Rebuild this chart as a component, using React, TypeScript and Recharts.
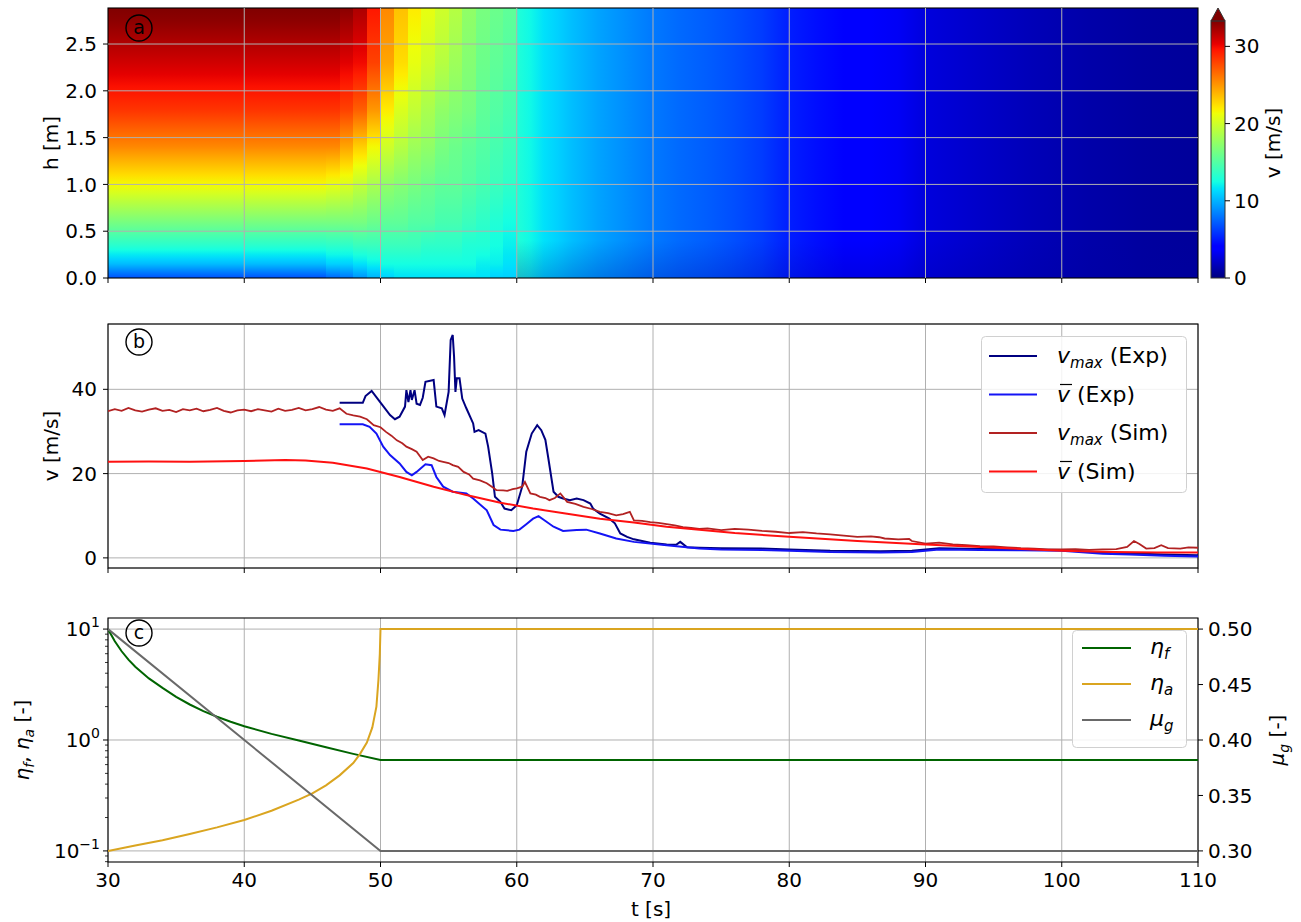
import React from 'react';
import { ComposedChart, Line, XAxis, YAxis, CartesianGrid, ReferenceArea, ReferenceLine, Legend } from 'recharts';

const FONT = '"DejaVu Sans", sans-serif';
const TICK_STYLE = { fontSize: 20, fill: '#000', fontFamily: FONT };

// shared time axis
const T_TICKS = [30, 40, 50, 60, 70, 80, 90, 100, 110];

// (a) velocity field up to t=60: column edges in time, v at the listed heights
const H_TOP = 2.885;
const H_TICKS = [0, 0.5, 1.0, 1.5, 2.0, 2.5];
const VMAX = 33.3;
const CB_TOP = 34.97;
const CB_TICKS = [0, 10, 20, 30];
const T_EDGES = [30, 38, 46, 47, 48, 49, 50, 51, 52, 53, 54, 55, 56, 57, 58, 59, 60];
const H_LEVELS = [0, 0.15, 0.35, 0.6, 1.0, 1.4, 1.8, 2.3, 2.885];
const V_H000 = [6.8, 6.8, 7.5, 8.0, 9.0, 10.0, 11.0, 11.5, 11.5, 11.5, 11.5, 11.5, 11.5, 11.5, 11.0, 11.0];
const V_H015 = [10.3, 10.3, 11, 11, 11.5, 12, 12.5, 12.5, 12.5, 12.5, 12.5, 12.5, 12.5, 12, 12, 11.5];
const V_H035 = [13.3, 13.3, 13.5, 13.5, 14, 14, 14, 14, 14, 13.5, 13.5, 13.5, 13, 13, 12.5, 12];
const V_H060 = [16.5, 16.5, 16.5, 16.5, 16.5, 16, 15.5, 15.5, 15, 15, 14.5, 14.5, 14, 13.5, 13, 12.5];
const V_H100 = [21.5, 21.5, 21, 20.5, 19.5, 18.5, 17.5, 17, 16.5, 16, 15.5, 15.5, 15, 14.5, 14, 13.5];
const V_H140 = [25.5, 25.5, 25.5, 24.5, 23, 21.5, 20, 19, 18, 17.5, 16.5, 16, 15.5, 15, 14.5, 14];
const V_H180 = [28.5, 28.5, 28.5, 28, 27, 25, 22, 20.5, 19.5, 18.5, 17.5, 17, 16.5, 15.5, 15, 14.5];
const V_H230 = [31, 31, 31, 30.5, 30, 28, 24.5, 22.5, 21, 20, 19, 18, 17, 16, 15.5, 15];
const V_H288 = [33.5, 33.5, 33.5, 33, 32, 29.5, 25.5, 23.5, 22, 21, 20, 19, 17.5, 16.5, 16, 15.5];
const FIELD_ROWS = [V_H000, V_H015, V_H035, V_H060, V_H100, V_H140, V_H180, V_H230, V_H288];
// after t=60 the profile is almost uniform in height
const LATE_T = [60, 61, 62, 63, 64, 66, 68, 70, 72, 74, 76, 78, 80, 82, 84, 86, 88, 90, 94, 98, 102, 106, 110];
const LATE_V = [13.0, 12.3, 11.5, 11.0, 10.4, 9.5, 8.8, 8.1, 7.6, 7.2, 6.7, 6.1, 5.1, 4.6, 4.1, 3.8, 3.4, 2.7, 2.1, 1.6, 1.2, 0.9, 0.75];

// (b) velocities, [t, v]
const V_TICKS = [0, 20, 40];
const VMAX_EXP = [[47, 36.8], [48.7, 36.8], [48.9, 38.4], [49.35, 39.6], [49.96, 37.0], [50.7, 33.9], [51.06, 32.9], [51.4, 33.5], [51.8, 35.9], [51.9, 39.8], [52.05, 37.0], [52.2, 39.8], [52.3, 37.5], [52.5, 39.8], [52.65, 36.6], [52.9, 36.3], [53.1, 38.0], [53.3, 41.8], [53.9, 42.2], [54.1, 35.9], [54.5, 35.5], [54.7, 33.9], [55.0, 39.4], [55.15, 51.7], [55.3, 52.9], [55.4, 47.7], [55.5, 39.4], [55.6, 42.6], [55.8, 42.6], [56.0, 37.8], [56.3, 35.5], [56.8, 31.9], [56.9, 29.9], [57.2, 30.3], [57.7, 29.5], [57.9, 26.4], [58.2, 20.0], [58.4, 14.5], [58.8, 13.3], [59.1, 11.7], [59.6, 11.3], [60.0, 12.5], [60.4, 16.9], [60.7, 25.2], [61.1, 29.5], [61.5, 31.5], [61.8, 30.3], [62.1, 28.0], [62.3, 24.0], [62.7, 15.7], [63.05, 14.5], [63.4, 14.1], [63.9, 13.7], [64.4, 14.1], [64.9, 13.7], [65.4, 12.9], [65.6, 11.7], [66.1, 10.5], [66.8, 9.3], [67.2, 8.2], [67.6, 5.8], [68.1, 5.0], [68.6, 4.4], [69.8, 3.6], [71, 3.2], [71.7, 3.1], [72, 3.8], [72.5, 2.5], [73.4, 2.4], [75, 2.3], [78, 2.2], [80, 2.0], [83, 1.7], [86.7, 1.6], [89, 1.7], [91, 2.3], [94, 2.1], [97, 2.0], [100, 1.9], [103, 1.3], [105, 1.1], [107.5, 0.8], [110, 0.6]];
const VMEAN_EXP = [[47, 31.7], [48.7, 31.7], [49.2, 31.1], [49.7, 29.5], [50.2, 26.4], [50.7, 24.4], [51.4, 22.4], [51.9, 20.4], [52.3, 19.6], [52.65, 20.4], [53.3, 22.2], [53.75, 22.0], [54.1, 19.2], [54.6, 16.9], [55.3, 15.7], [56.3, 15.3], [56.8, 14.1], [57.8, 11.3], [58.3, 7.8], [58.8, 6.7], [59.75, 6.4], [60.2, 6.7], [60.7, 8.0], [61.2, 9.3], [61.6, 9.9], [61.95, 9.1], [62.7, 7.4], [63.4, 6.4], [64.4, 6.6], [65.1, 6.7], [66.1, 5.8], [67.3, 4.6], [68.6, 3.8], [71, 3.0], [73.4, 2.2], [75, 2.0], [78, 1.9], [80, 1.7], [83, 1.4], [86.7, 1.3], [89, 1.4], [91, 2.0], [94, 1.9], [97, 1.8], [100, 1.7], [103, 1.0], [105, 0.8], [107.5, 0.5], [110, 0.3]];
const VMAX_SIM = [[30, 34.8], [30.5, 35.3], [31, 34.9], [31.5, 35.6], [32, 35.0], [32.5, 34.7], [33, 35.2], [33.5, 35.5], [34, 34.9], [34.5, 35.1], [35, 34.6], [35.5, 35.3], [36, 35.0], [36.5, 35.4], [37, 34.8], [37.5, 35.1], [38, 35.6], [38.5, 34.9], [39, 34.5], [39.5, 35.0], [40, 35.2], [40.5, 34.8], [41, 35.3], [41.5, 35.0], [42, 34.7], [42.5, 35.4], [43, 34.9], [43.5, 35.1], [44, 35.6], [44.5, 35.0], [45, 35.3], [45.5, 35.8], [46, 35.2], [46.5, 34.9], [47, 35.5], [47.5, 34.2], [48, 33.8], [48.5, 33.5], [49, 32.9], [49.5, 31.5], [50, 31.0], [50.4, 29.9], [50.8, 29.0], [51.2, 27.9], [51.6, 27.2], [51.9, 26.4], [52.3, 25.8], [52.65, 25.2], [53.1, 23.2], [53.5, 24.0], [53.9, 23.6], [54.3, 23.0], [54.6, 22.8], [55, 22.5], [55.3, 22.0], [55.7, 21.6], [56.1, 20.4], [56.5, 19.8], [56.8, 18.8], [57.3, 18.4], [57.8, 17.7], [58.2, 16.8], [58.5, 16.1], [59, 16.0], [59.3, 15.9], [59.7, 16.3], [60, 16.5], [60.4, 16.9], [60.6, 18.0], [61, 15.3], [61.4, 15.0], [61.7, 14.5], [62.1, 14.2], [62.4, 13.7], [62.8, 14.2], [63.2, 15.3], [63.7, 13.3], [64.3, 12.8], [64.9, 12.1], [65.5, 11.6], [66.1, 10.9], [66.7, 10.6], [67.3, 10.1], [67.8, 10.4], [68.3, 10.9], [68.6, 8.9], [69.2, 8.8], [69.8, 8.5], [70.4, 8.3], [71, 8.0], [71.6, 7.7], [72.2, 7.3], [72.8, 7.1], [73.4, 6.9], [74, 7.0], [75, 6.6], [76, 6.9], [77, 6.7], [78, 6.4], [79, 6.2], [80, 5.9], [81, 6.1], [82, 5.8], [83, 5.6], [84, 5.3], [85, 5.0], [86, 5.1], [86.6, 4.9], [87, 4.6], [88, 4.4], [88.8, 4.5], [89, 4.0], [90, 3.4], [91, 3.6], [92, 3.2], [93, 3.0], [94, 2.8], [95, 2.7], [96, 2.5], [97, 2.3], [98, 2.2], [99, 2.0], [100, 2.0], [101, 2.1], [102, 1.9], [103, 2.0], [104, 2.1], [104.8, 2.6], [105.3, 4.0], [105.7, 3.3], [106.2, 2.2], [106.8, 2.3], [107.3, 3.0], [107.8, 2.3], [108.7, 2.2], [109.3, 2.5], [110, 2.4]];
const VMEAN_SIM = [[30, 22.8], [33, 22.9], [36, 22.8], [40, 23.0], [43, 23.2], [44.5, 23.1], [46.5, 22.6], [49, 21.2], [51.4, 19.2], [53.9, 16.9], [56.3, 14.9], [58.8, 13.1], [61.2, 11.7], [63.7, 10.5], [66.1, 9.3], [68.6, 8.4], [71, 7.4], [73.4, 6.7], [76, 5.9], [80, 5.0], [85, 4.0], [90, 3.2], [96.4, 2.2], [100, 1.7], [103.8, 1.4], [107, 1.3], [110, 1.3]];

// (c) model parameters, [t, value]
const LOG_TICKS = [0.08, 0.09, 0.1, 0.2, 0.3, 0.4, 0.5, 0.6, 0.7, 0.8, 0.9, 1, 2, 3, 4, 5, 6, 7, 8, 9, 10];
const MU_TICKS = [0.3, 0.35, 0.4, 0.45, 0.5];
const ETA_F = [[30, 10], [30.5, 7.76], [31, 6.31], [31.5, 5.31], [32, 4.57], [33, 3.59], [34, 2.95], [35, 2.45], [36, 2.09], [37, 1.82], [38, 1.62], [39, 1.46], [40, 1.33], [42, 1.135], [44, 0.989], [46, 0.861], [48, 0.75], [50, 0.661], [110, 0.661]];
const ETA_A = [[30, 0.1], [32, 0.112], [34, 0.125], [36, 0.142], [38, 0.163], [40, 0.19], [42, 0.23], [44, 0.29], [45, 0.33], [46, 0.39], [47, 0.48], [48, 0.62], [48.5, 0.75], [49, 0.95], [49.4, 1.3], [49.7, 2.0], [49.85, 3.5], [49.95, 6], [50, 10], [110, 10]];
const MU_G = [[30, 0.5], [50, 0.3], [110, 0.3]];

const toPts = (arr: number[][]) => arr.map(([t, v]) => ({ t, v }));

// matplotlib "jet"
const interp = (f: number, xs: number[], ys: number[]) => {
  for (let i = 1; i < xs.length; i++) {
    if (f <= xs[i]) {
      const u = (f - xs[i - 1]) / (xs[i] - xs[i - 1]);
      return ys[i - 1] + u * (ys[i] - ys[i - 1]);
    }
  }
  return ys[ys.length - 1];
};
const jetFrac = (f: number) => {
  const c = Math.max(0, Math.min(1, f));
  const r = interp(c, [0, 0.35, 0.66, 0.89, 1], [0, 0, 1, 1, 0.5]);
  const g = interp(c, [0, 0.125, 0.375, 0.64, 0.91, 1], [0, 0, 1, 1, 0, 0]);
  const b = interp(c, [0, 0.11, 0.34, 0.65, 1], [0.5, 1, 1, 0, 0]);
  return `rgb(${Math.round(r * 255)},${Math.round(g * 255)},${Math.round(b * 255)})`;
};
const jet = (v: number) => jetFrac(v / VMAX);
const JET_BREAKS = [0, 0.11, 0.125, 0.34, 0.35, 0.375, 0.64, 0.65, 0.66, 0.89, 0.91, 1];

const columnStops = (i: number) => {
  const stops: { off: number; color: string }[] = [];
  for (let k = 0; k < H_LEVELS.length; k++) {
    const v = FIELD_ROWS[k][i];
    stops.push({ off: H_LEVELS[k] / H_TOP, color: jet(v) });
    if (k < H_LEVELS.length - 1) {
      const v2 = FIELD_ROWS[k + 1][i];
      for (let s = 1; s < 4; s++) {
        const u = s / 4;
        stops.push({ off: (H_LEVELS[k] + u * (H_LEVELS[k + 1] - H_LEVELS[k])) / H_TOP, color: jet(v + u * (v2 - v)) });
      }
    }
  }
  return stops;
};

const Gradients = () => (
  <svg width={0} height={0} style={{ position: 'absolute' }}>
    <defs>
      <linearGradient id="jetbar" x1="0" y1="1" x2="0" y2="0">
        {JET_BREAKS.map((f) => <stop key={f} offset={f} stopColor={jetFrac(f)} />)}
      </linearGradient>
      {T_EDGES.slice(0, -1).map((_, i) => (
        <linearGradient key={i} id={`vcol${i}`} x1="0" y1="1" x2="0" y2="0">
          {columnStops(i).map((s, j) => <stop key={j} offset={s.off} stopColor={s.color} />)}
        </linearGradient>
      ))}
      <linearGradient id="vlate" x1="0" y1="0" x2="1" y2="0">
        {LATE_T.map((t, i) => (
          <stop key={t} offset={(t - LATE_T[0]) / (LATE_T[LATE_T.length - 1] - LATE_T[0])} stopColor={jet(LATE_V[i])} />
        ))}
      </linearGradient>
      <linearGradient id="bottomshade" x1="0" y1="1" x2="0" y2="0">
        <stop offset={0} stopColor="#0000a0" stopOpacity={0.25} />
        <stop offset={1} stopColor="#0000a0" stopOpacity={0} />
      </linearGradient>
    </defs>
  </svg>
);

const VTitle = (p: any) => (
  <text x={p.px} y={p.py} transform={`rotate(-90 ${p.px} ${p.py})`} textAnchor="middle" fontSize={20} fill="#000" fontFamily={FONT}>
    {p.txt}
  </text>
);
const HTitle = (p: any) => (
  <text x={p.px} y={p.py} textAnchor="middle" fontSize={20} fill="#000" fontFamily={FONT}>{p.txt}</text>
);
const EtaTitle = (p: any) => (
  <text x={p.px} y={p.py} transform={`rotate(-90 ${p.px} ${p.py})`} textAnchor="middle" fontSize={20} fill="#000" fontFamily={FONT}>
    <tspan fontStyle="italic">η</tspan>
    <tspan fontStyle="italic" fontSize={14} dy={5}>f</tspan>
    <tspan dy={-5}>, </tspan>
    <tspan fontStyle="italic">η</tspan>
    <tspan fontStyle="italic" fontSize={14} dy={5}>a</tspan>
    <tspan dy={-5}> [-]</tspan>
  </text>
);
const MuTitle = (p: any) => (
  <text x={p.px} y={p.py} transform={`rotate(-90 ${p.px} ${p.py})`} textAnchor="middle" fontSize={20} fill="#000" fontFamily={FONT}>
    <tspan fontStyle="italic">μ</tspan>
    <tspan fontStyle="italic" fontSize={14} dy={5}>g</tspan>
    <tspan dy={-5}> [-]</tspan>
  </text>
);

const frameShape = (letter: string, dy: number) => (p: any) => (
  <g>
    <rect x={p.x} y={p.y} width={p.width} height={p.height} fill="none" stroke="#000" strokeWidth={1.1} />
    <circle cx={p.x + 31} cy={p.y + dy} r={13} fill="none" stroke="#000" strokeWidth={1.4} />
    <text x={p.x + 31} y={p.y + dy} dy="0.34em" textAnchor="middle" fontSize={19} fill="#000" fontFamily={FONT}>{letter}</text>
  </g>
);

const LogTick = (p: any) => {
  const v = p.payload.value;
  const lg = Math.log10(v);
  const e = Math.round(lg);
  const major = Math.abs(lg - e) < 1e-6;
  return (
    <g>
      <line x1={p.x} x2={p.x - (major ? 5 : 3)} y1={p.y} y2={p.y} stroke="#000" strokeWidth={major ? 1 : 0.8} />
      {major && (
        <text x={p.x - 8} y={p.y} dy="0.36em" textAnchor="end" fontSize={20} fill="#000" fontFamily={FONT}>
          10<tspan dy={-9} fontSize={14}>{e < 0 ? `−${-e}` : `${e}`}</tspan>
        </text>
      )}
    </g>
  );
};

const barShape = (p: any) => (
  <rect x={p.x} y={p.y} width={p.width} height={p.height} fill="url(#jetbar)" stroke="#333" strokeWidth={1} />
);
const triangleShape = (p: any) => (
  <polygon
    points={`${p.x},${p.y + p.height} ${p.x + p.width},${p.y + p.height} ${p.x + p.width / 2},${p.y}`}
    fill={jetFrac(1)}
    stroke="#333"
    strokeWidth={1}
  />
);

const EXP_SIM_ROWS = [
  { color: '#000080', kind: 'max', src: 'Exp' },
  { color: '#1414f5', kind: 'mean', src: 'Exp' },
  { color: '#b22222', kind: 'max', src: 'Sim' },
  { color: '#ff1010', kind: 'mean', src: 'Sim' },
];

const VelLegend = () => (
  <svg width={206} height={157} style={{ display: 'block', fontFamily: FONT }}>
    <rect x={0.5} y={0.5} width={205} height={156} rx={4} fill="rgba(255,255,255,0.85)" stroke="#d0d0d0" />
    {EXP_SIM_ROWS.map((r, i) => {
      const cy = 20 + i * 38.5;
      return (
        <g key={i}>
          <line x1={8} x2={56} y1={cy} y2={cy} stroke={r.color} strokeWidth={2} />
          {r.kind === 'max' ? (
            <text x={76} y={cy + 7} fontSize={22} fill="#000">
              <tspan fontStyle="italic">v</tspan>
              <tspan fontStyle="italic" fontSize={15} dy={5}>max</tspan>
              <tspan dy={-5}>{` (${r.src})`}</tspan>
            </text>
          ) : (
            <g>
              <line x1={79} x2={91} y1={cy - 10} y2={cy - 10} stroke="#000" strokeWidth={1.2} />
              <text x={76} y={cy + 7} fontSize={22} fill="#000">
                <tspan fontStyle="italic">v</tspan>
                <tspan>{` (${r.src})`}</tspan>
              </text>
            </g>
          )}
        </g>
      );
    })}
  </svg>
);

const PAR_ROWS = [
  { color: '#006400', sym: 'η', sub: 'f' },
  { color: '#daa520', sym: 'η', sub: 'a' },
  { color: '#696969', sym: 'μ', sub: 'g' },
];

const ParLegend = () => (
  <svg width={115} height={118} style={{ display: 'block', fontFamily: FONT }}>
    <rect x={0.5} y={0.5} width={114} height={117} rx={4} fill="rgba(255,255,255,0.85)" stroke="#d0d0d0" />
    {PAR_ROWS.map((r, i) => {
      const cy = 18 + i * 36;
      return (
        <g key={i}>
          <line x1={10} x2={59} y1={cy} y2={cy} stroke={r.color} strokeWidth={2} />
          <text x={78} y={cy + 6} fontSize={22} fill="#000">
            <tspan fontStyle="italic">{r.sym}</tspan>
            <tspan fontStyle="italic" fontSize={15} dy={5}>{r.sub}</tspan>
          </text>
        </g>
      );
    })}
  </svg>
);

const H_GRID = [0.5, 1.0, 1.5, 2.0, 2.5];
const T_GRID = [40, 50, 60, 70, 80, 90, 100];

export default function App() {
  return (
    <div style={{ position: 'absolute', left: 0, top: 0, width: 1301, height: 922, background: '#fff', fontFamily: FONT }}>
      <Gradients />

      {/* (a) velocity field */}
      <div style={{ position: 'absolute', left: 0, top: 0 }}>
        <ComposedChart width={1301} height={300} margin={{ top: 8, right: 103, bottom: 0, left: 0 }}>
          <XAxis type="number" dataKey="t" domain={[30, 110]} ticks={T_TICKS} interval={0} tickFormatter={() => ''}
            height={22} tickSize={5} axisLine={false} tickLine={{ stroke: '#000' }} allowDataOverflow />
          <YAxis type="number" domain={[0, H_TOP]} ticks={H_TICKS} interval={0} tickFormatter={(v: number) => v.toFixed(1)}
            width={108} tickSize={5} tickMargin={6} axisLine={false} tickLine={{ stroke: '#000' }} tick={TICK_STYLE} allowDataOverflow
            label={<VTitle px={58} py={143} txt="h [m]" />} />
          {T_EDGES.slice(0, -1).map((t0, i) => (
            <ReferenceArea key={`c${i}`} x1={t0} x2={T_EDGES[i + 1]} y1={0} y2={H_TOP} fill={`url(#vcol${i})`}
              fillOpacity={1} stroke="none" shapeRendering="crispEdges" ifOverflow="visible" />
          ))}
          <ReferenceArea x1={LATE_T[0]} x2={LATE_T[LATE_T.length - 1]} y1={0} y2={H_TOP} fill="url(#vlate)"
            fillOpacity={1} stroke="none" shapeRendering="crispEdges" ifOverflow="visible" />
          <ReferenceArea x1={LATE_T[0]} x2={LATE_T[LATE_T.length - 1]} y1={0} y2={0.4} fill="url(#bottomshade)"
            fillOpacity={1} stroke="none" ifOverflow="visible" />
          {T_GRID.map((t) => <ReferenceLine key={`x${t}`} x={t} stroke="#b0b0b0" strokeWidth={1} />)}
          {H_GRID.map((h) => <ReferenceLine key={`y${h}`} y={h} stroke="#b0b0b0" strokeWidth={1} />)}
          <ReferenceArea x1={30} x2={110} y1={0} y2={H_TOP} ifOverflow="visible" shape={frameShape('a', 20)} />
        </ComposedChart>
      </div>

      {/* colorbar */}
      <div style={{ position: 'absolute', left: 1198, top: 0 }}>
        <ComposedChart width={103} height={300} margin={{ top: 8, right: 0, bottom: 0, left: 13 }}>
          <XAxis type="number" dataKey="x" domain={[0, 1]} height={22} tick={false} tickLine={false} axisLine={false} allowDataOverflow />
          <YAxis orientation="right" type="number" domain={[0, CB_TOP]} ticks={CB_TICKS} interval={0} width={76}
            tickSize={5} tickMargin={4} axisLine={false} tickLine={{ stroke: '#000' }} tick={TICK_STYLE} allowDataOverflow
            label={<VTitle px={82} py={143} txt="v [m/s]" />} />
          <ReferenceArea x1={0} x2={1} y1={0} y2={VMAX} ifOverflow="visible" shape={barShape} />
          <ReferenceArea x1={0} x2={1} y1={VMAX} y2={CB_TOP} ifOverflow="visible" shape={triangleShape} />
        </ComposedChart>
      </div>

      {/* (b) velocities */}
      <div style={{ position: 'absolute', left: 0, top: 300 }}>
        <ComposedChart width={1301} height={300} margin={{ top: 24, right: 103, bottom: 0, left: 0 }}>
          <CartesianGrid stroke="#b0b0b0" strokeWidth={1} />
          <XAxis type="number" dataKey="t" domain={[30, 110]} ticks={T_TICKS} interval={0} tickFormatter={() => ''}
            height={32} tickSize={5} axisLine={false} tickLine={{ stroke: '#000' }} allowDataOverflow />
          <YAxis type="number" domain={[-2.4, 55.5]} ticks={V_TICKS} interval={0} width={108} tickSize={5} tickMargin={6}
            axisLine={false} tickLine={{ stroke: '#000' }} tick={TICK_STYLE} allowDataOverflow
            label={<VTitle px={58} py={146} txt="v [m/s]" />} />
          <Line data={toPts(VMAX_EXP)} dataKey="v" stroke="#000080" strokeWidth={2} dot={false} isAnimationActive={false} />
          <Line data={toPts(VMEAN_EXP)} dataKey="v" stroke="#1414f5" strokeWidth={2} dot={false} isAnimationActive={false} />
          <Line data={toPts(VMAX_SIM)} dataKey="v" stroke="#b22222" strokeWidth={1.8} dot={false} isAnimationActive={false} />
          <Line data={toPts(VMEAN_SIM)} dataKey="v" stroke="#ff1010" strokeWidth={2} dot={false} isAnimationActive={false} />
          <ReferenceArea x1={30} x2={110} y1={-2.4} y2={55.5} ifOverflow="visible" shape={frameShape('b', 18)} />
          <Legend content={() => <VelLegend />} layout="horizontal" verticalAlign="middle" align="center"
            wrapperStyle={{ left: 981, top: 36, width: 206, height: 157 }} />
        </ComposedChart>
      </div>

      {/* (c) model parameters */}
      <div style={{ position: 'absolute', left: 0, top: 600 }}>
        <ComposedChart width={1301} height={322} margin={{ top: 18, right: 0, bottom: 0, left: 0 }}>
          <CartesianGrid stroke="#b0b0b0" strokeWidth={1} horizontalValues={[0.1, 1, 10]} />
          <XAxis type="number" dataKey="t" domain={[30, 110]} ticks={T_TICKS} interval={0} height={60} tickSize={5}
            tickMargin={6} axisLine={false} tickLine={{ stroke: '#000' }} tick={TICK_STYLE} allowDataOverflow
            label={<HTitle px={651} py={316} txt="t [s]" />} />
          <YAxis scale="log" type="number" domain={[0.07943, 12.589]} ticks={LOG_TICKS} interval={0} width={108}
            tickSize={0} tickMargin={0} tickLine={false} axisLine={false} tick={(p: any) => <LogTick {...p} />} allowDataOverflow
            label={<EtaTitle px={29} py={140} />} />
          <YAxis yAxisId="mu" orientation="right" type="number" domain={[0.29, 0.51]} ticks={MU_TICKS} interval={0}
            tickFormatter={(v: number) => v.toFixed(2)} width={103} tickSize={5} tickMargin={5} axisLine={false}
            tickLine={{ stroke: '#000' }} tick={TICK_STYLE} allowDataOverflow label={<MuTitle px={1284} py={140} />} />
          <Line data={toPts(ETA_F)} dataKey="v" stroke="#006400" strokeWidth={2} dot={false} isAnimationActive={false} />
          <Line data={toPts(ETA_A)} dataKey="v" stroke="#daa520" strokeWidth={2} dot={false} isAnimationActive={false} />
          <Line yAxisId="mu" data={toPts(MU_G)} dataKey="v" stroke="#696969" strokeWidth={2} dot={false} isAnimationActive={false} />
          <ReferenceArea x1={30} x2={110} y1={0.07943} y2={12.589} ifOverflow="visible" shape={frameShape('c', 15)} />
          <Legend content={() => <ParLegend />} layout="horizontal" verticalAlign="middle" align="center"
            wrapperStyle={{ left: 1072, top: 30, width: 115, height: 118 }} />
        </ComposedChart>
      </div>
    </div>
  );
}
